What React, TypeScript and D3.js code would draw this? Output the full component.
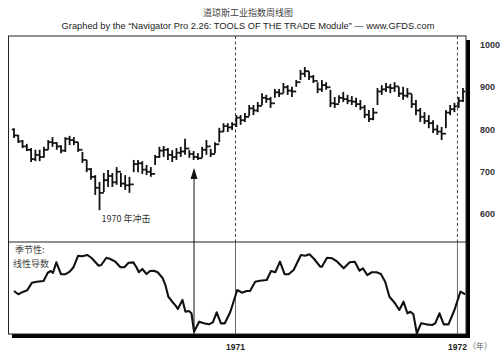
import React from "react";
import * as d3 from "d3";

const W = 504;
const H = 354;

// Weekly DJIA bars (Jan 1970 – Jan 1972)
const weeklyHigh = [803,787,775,766,756,752,752,759,775,782,770,763,782,785,782,770,747,728,709,692,676,697,704,697,711,697,692,688,728,728,725,716,711,740,759,761,756,751,756,759,778,751,749,744,759,775,754,770,804,815,815,817,834,834,839,858,858,865,886,882,877,896,896,910,905,901,917,941,948,938,929,912,917,912,894,877,881,889,882,879,875,870,858,846,851,898,905,910,908,912,901,901,898,884,870,851,841,834,822,811,806,846,858,863,877,898];
const weeklyLow = [780,768,756,749,723,725,725,733,752,759,752,744,747,763,763,747,721,699,681,645,609,652,664,664,669,664,657,650,699,699,695,692,688,716,733,735,728,723,728,735,740,733,728,728,733,740,735,744,770,794,794,799,806,811,818,832,834,841,858,863,851,875,877,886,882,877,901,917,924,917,910,886,889,894,853,851,863,865,860,858,853,846,827,818,822,858,882,889,886,889,877,870,875,851,834,818,813,803,792,787,775,803,834,841,851,865];
const weeklyOpen = [800,786,772,760,752,730,740,735,752,770,768,760,750,778,775,770,752,728,706,688,662,650,680,690,675,700,672,668,670,718,720,705,700,695,735,750,752,740,735,745,748,755,742,735,732,752,760,742,765,795,808,805,812,828,822,830,850,845,856,875,872,862,888,885,900,892,890,912,932,938,925,915,895,905,900,862,860,875,872,868,866,860,852,835,825,840,890,895,900,898,902,885,880,885,860,845,830,820,815,800,795,790,840,848,855,868];
const weeklyClose = [786,772,760,752,730,740,735,752,770,768,760,750,778,775,770,752,728,706,688,662,650,680,690,675,700,672,668,670,718,720,705,700,695,735,750,752,740,735,745,748,755,742,735,732,752,760,742,765,795,808,805,812,828,822,830,850,845,856,875,872,862,888,885,900,892,890,912,932,938,925,915,895,905,900,862,860,875,872,868,866,860,852,835,825,840,890,895,900,898,902,885,880,885,860,845,830,820,815,800,795,790,840,848,855,868,890];

// Seasonal linear-derivative line (week position, value)
const seasonalWeek = [0,1.0,2.2,3.1,4.2,5.3,6.9,7.9,8.6,9.1,9.9,11.0,12.0,13.0,13.9,15.0,15.9,17.2,18.2,19.8,20.4,21.6,22.5,23.7,24.9,25.8,26.8,27.9,28.6,29.2,30.0,31.0,31.8,32.7,33.6,34.7,35.4,36.1,37.0,37.8,38.3,39.4,40.1,40.9,41.5,42.1,43.3,44.4,45.6,46.5,47.4,48.4,49.3,50.6,52.2,53.3,54.4,55.2,56.4,57.5,59.1,60.1,61.1,62.2,63.3,64.2,65.4,67.1,68.1,69.1,70.2,71.6,72.0,73.2,74.4,75.6,77.1,78.5,79.7,80.8,81.6,82.6,83.7,84.8,85.8,86.8,87.8,89.1,90.1,91.1,92.0,92.7,93.4,94.2,95.2,96.4,97.8,98.5,99.5,100.5,101.6,103.0,104.4,105.5];
const seasonalValue = [46.7,43.2,46,47.5,55.8,56.8,57.6,66.6,68.5,66.3,77.9,64.9,64.9,67.7,72.5,85.1,84.5,85.9,82.3,74.2,75,82.9,81.5,78.6,72.5,72.5,77.5,77.9,72.8,67.1,70.7,65.2,68.5,68.8,67.1,61.2,53.3,40.5,35.1,30.8,27.2,37,24.2,25,22.5,2.5,13.4,11.6,10.5,12.7,23.6,11.6,11.6,24.2,47.8,44.9,46.7,46.7,56.8,57.9,58.7,68.5,67.1,78.6,64.9,64.9,69.6,85.9,85.1,86.6,81.5,73.2,73.2,82.9,82.3,78.6,71.4,77.9,78.6,68.8,71.4,64.1,67.1,67.1,65.2,56.8,40.5,33.4,26.1,35.1,22.5,24.2,21.4,0.8,11.6,10.5,9.8,11.6,22.5,10.5,10.5,26.1,46,43.2];

const priceTicks = [1000, 900, 800, 700, 600];
const yearLabels = ["1971", "1972"];
const yearWeeks = [51.8, 103.7];
const shockWeek = 42.1;

const title = "道琼斯工业指数周线图";
const subtitle = "Graphed by the \u201cNavigator Pro 2.26: TOOLS OF THE TRADE Module\u201d \u2014 www.GFDS.com";

export default function App() {
  const left = 8.5, right = 466, top = 36, divider = 242, bottom = 334;
  const x = d3.scaleLinear().domain([0, 105]).range([14, 463]);
  const y = d3.scaleLinear().domain([600, 1000]).range([214, 45]);
  const ys = d3.scaleLinear().domain([0, 100]).range([334, 242]);
  const sansFont = "'Liberation Sans', Arial, sans-serif";
  const cjkFont = "'Noto Sans CJK SC', sans-serif";

  const seasonalLine = d3
    .line<number>()
    .x((_, i) => x(seasonalWeek[i]))
    .y((d) => ys(d))(seasonalValue) as string;

  const tick = 2.2;
  const sx = x(shockWeek);

  return (
    <svg
      width={W}
      height={H}
      style={{ position: "absolute", left: 0, top: 0, display: "block", background: "#fff" }}
    >
      <rect x={0} y={0} width={W} height={H} fill="#fff" />
      <text x={248} y={16} textAnchor="middle" fontFamily={cjkFont} fontSize={9} fill="#444">
        {title}
      </text>
      <text x={248} y={29} textAnchor="middle" fontFamily={sansFont} fontSize={9.3} fill="#222">
        {subtitle}
      </text>

      {/* shadow */}
      <rect x={right} y={40} width={4} height={bottom + 4 - 40} fill="#000" />
      <rect x={12} y={bottom} width={right + 4 - 12} height={4} fill="#000" />
      {/* frame */}
      <rect x={left} y={top} width={right - left} height={bottom - top} fill="none" stroke="#222" strokeWidth={1} />
      <line x1={left} x2={right} y1={divider} y2={divider} stroke="#222" strokeWidth={1} />

      {/* year lines */}
      {yearWeeks.map((w, i) => (
        <g key={"yl" + i}>
          <line x1={x(w)} x2={x(w)} y1={top} y2={divider} stroke="#444" strokeWidth={1} strokeDasharray="3,2.5" />
          <line x1={x(w)} x2={x(w)} y1={divider} y2={bottom} stroke="#444" strokeWidth={0.8} />
        </g>
      ))}

      {/* price bars */}
      {weeklyHigh.map((h, i) => {
        const cx = x(i);
        return (
          <g key={"b" + i} stroke="#111" strokeWidth={1.8}>
            <line x1={cx} x2={cx} y1={y(h)} y2={y(weeklyLow[i])} />
            <line x1={cx - tick} x2={cx} y1={y(weeklyOpen[i])} y2={y(weeklyOpen[i])} />
            <line x1={cx} x2={cx + tick} y1={y(weeklyClose[i])} y2={y(weeklyClose[i])} />
          </g>
        );
      })}

      {/* price axis labels */}
      {priceTicks.map((t) => (
        <text key={t} x={480} y={y(t) + 3} fontFamily={sansFont} fontSize={9} fontWeight="bold" fill="#333">
          {t}
        </text>
      ))}

      {/* shock annotation */}
      <text x={126} y={222} textAnchor="middle" fontFamily={cjkFont} fontSize={9} fill="#333">
        1970 年冲击
      </text>
      <line x1={sx} x2={sx} y1={178} y2={bottom} stroke="#111" strokeWidth={1} />
      <path d={`M${sx},168 L${sx - 3.5},179 L${sx + 3.5},179 Z`} fill="#111" />

      {/* seasonal panel */}
      <text x={15} y={253} fontFamily={cjkFont} fontSize={9} fill="#444">季节性:</text>
      <text x={13} y={267} fontFamily={cjkFont} fontSize={9} fill="#444">线性导数</text>
      <path d={seasonalLine} fill="none" stroke="#111" strokeWidth={2.1} strokeLinejoin="round" />

      {/* year labels */}
      {yearLabels.map((l, i) => (
        <text key={l} x={x(yearWeeks[i])} y={350} textAnchor="middle" fontFamily={sansFont} fontSize={8.5} fontWeight="bold" fill="#222">
          {l}
        </text>
      ))}
      <text x={468} y={349} fontFamily={cjkFont} fontSize={8} fill="#666">（年）</text>
    </svg>
  );
}
